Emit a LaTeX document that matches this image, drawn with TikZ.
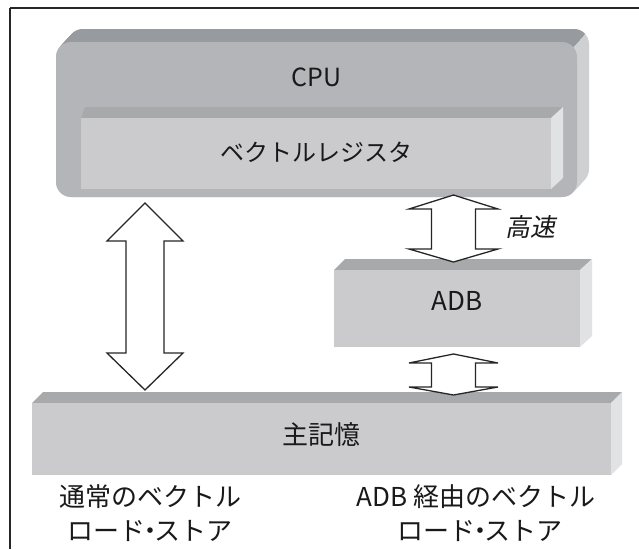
\documentclass[tikz,border=0pt]{standalone}
\usepackage{fontspec}
\setmainfont{Noto Sans CJK JP}
\newfontfamily\jpslant[FakeSlant=0.2]{Noto Sans CJK JP}
\definecolor{cpuface}{HTML}{B4B5B9}
\definecolor{cputop}{HTML}{979A9F}
\definecolor{cpuside}{HTML}{CFD0D2}
\definecolor{boxface}{HTML}{CBCBCD}
\definecolor{boxtop}{HTML}{A8A9AB}
\definecolor{boxside}{HTML}{E1E2E4}
\newcommand{\ndot}{\kern-0.33em・\kern-0.33em}
\tikzset{
  lbl/.style={inner sep=0pt, font=\fontsize{23pt}{27pt}\selectfont, text=black!90},
  bottomlbl/.style={inner sep=0pt, font=\fontsize{26pt}{30pt}\selectfont, text=black!90},
  face/.style={fill=boxface, draw=none, inner sep=0pt},
  dblarrow/.style={draw=black!85, line width=1.3pt, fill=white, line join=miter},
  frameline/.style={draw=black!85, line width=1.6pt}
}
\begin{document}
\begin{tikzpicture}[x=1pt,y=-1pt]
\useasboundingbox (0,0) rectangle (639,549);
\fill[white] (0,0) rectangle (639,549);
% frame (top and left lines)
\draw[frameline] (10,8) -- (639,8);
\draw[frameline] (10,8) -- (10,549);

% ---- CPU (extruded rounded box)
\foreach \t in {0,0.5,...,12}
  \fill[cpuside, rounded corners=15pt] ({56+\t},{42-1.0833*\t}) rectangle ++(521,155);
\begin{scope}
  \clip (0,-100) -- (708,-100) -- (573,46.8) -- (0,46.8) -- cycle;
  \foreach \t in {0,0.5,...,12}
    \fill[cputop, rounded corners=15pt] ({56+\t},{42-1.0833*\t}) rectangle ++(521,155);
\end{scope}
\node[fill=cpuface, rounded corners=15pt, inner sep=0pt, minimum width=521pt, minimum height=155pt] (cpu) at (316.5,119.5) {};
\node[lbl, font=\fontsize{25pt}{29pt}\selectfont] (cpulbl) at (316.5,77) {CPU};

% ---- vector register
\fill[boxtop] (81,118) -- (85,107) -- (563,107) -- (551,118) -- cycle;
\fill[boxside] (551,118) -- (563,107) -- (563,178) -- (551,189) -- cycle;
\node[face, minimum width=470pt, minimum height=71pt] (reg) at (316,153.5) {};
\node[lbl, font=\fontsize{24pt}{28pt}\selectfont] (reglbl) at (316,152) {ベクトルレジスタ};

% ---- ADB
\fill[boxtop] (334,270) -- (345,259) -- (592,259) -- (580,270) -- cycle;
\fill[boxside] (580,270) -- (592,259) -- (592,336) -- (580,347) -- cycle;
\node[face, minimum width=246pt, minimum height=77pt] (adb) at (457,308.5) {};
\node[lbl, font=\fontsize{26pt}{30pt}\selectfont] (adblbl) at (457,301) {ADB};

% ---- main memory
\fill[boxtop] (32,403) -- (43,392) -- (622,392) -- (611,403) -- cycle;
\fill[boxside] (611,403) -- (622,392) -- (622,464) -- (611,475) -- cycle;
\node[face, minimum width=579pt, minimum height=72pt] (mem) at (321.5,439) {};
\node[lbl, font=\fontsize{26pt}{30pt}\selectfont] (memlbl) at (321.5,435) {主記憶};

% ---- arrows
\coordinate (la) at (145,203);
\coordinate (lb) at (145,390);
\draw[dblarrow] (la) -- ++(38,38) -- ++(-19,0) -- ++(0,112) -- ++(19,0) -- (lb)
  -- ++(-38,-37) -- ++(19,0) -- ++(0,-112) -- ++(-19,0) -- cycle;

\coordinate (ra) at (453.5,195);
\coordinate (rb) at (453.5,262);
\draw[dblarrow] (ra) -- ++(44.5,14) -- ++(-22.5,0) -- ++(0,40) -- ++(22.5,0) -- (rb)
  -- ++(-44.5,-13) -- ++(22.5,0) -- ++(0,-40) -- ++(-22.5,0) -- cycle;

\coordinate (rc) at (453.5,354);
\coordinate (rd) at (453.5,395);
\draw[dblarrow] (rc) -- ++(44.5,9) -- ++(-22.5,0) -- ++(0,24) -- ++(22.5,0) -- (rd)
  -- ++(-44.5,-8) -- ++(22.5,0) -- ++(0,-24) -- ++(-22.5,0) -- cycle;

\node[lbl, font=\jpslant\fontsize{25pt}{29pt}\selectfont] (fast) at (530,227) {高速};

% ---- bottom labels
\node[bottomlbl] (l1) at (150,497) {通常のベクトル};
\node[bottomlbl] (l2) at (150,531) {ロード\ndot ストア};
\node[bottomlbl] (r1) at (476,497) {ADB 経由のベクトル};
\node[bottomlbl] (r2) at (480,531) {ロード\ndot ストア};
\end{tikzpicture}
\end{document}
